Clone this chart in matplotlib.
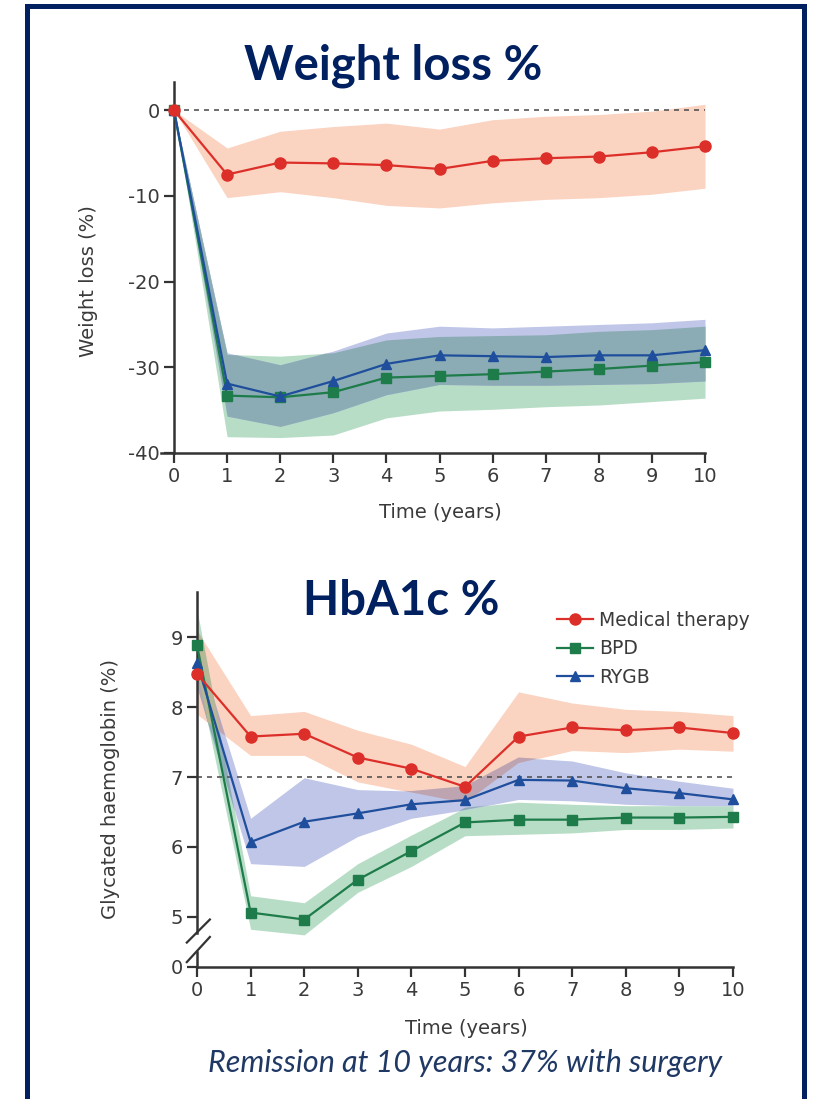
import numpy as np
import matplotlib
matplotlib.use("Agg")
from matplotlib import pyplot as plt
from matplotlib.colors import to_rgb
from matplotlib.patches import Rectangle
from matplotlib.lines import Line2D

plt.rcParams['font.family'] = ['Liberation Sans Narrow', 'DejaVu Sans']
plt.rcParams['axes.unicode_minus'] = False

years = [0, 1, 2, 3, 4, 5, 6, 7, 8, 9, 10]

# weight loss (%)
wl_med = [0, -7.5, -6.1, -6.2, -6.4, -6.85, -5.9, -5.6, -5.4, -4.9, -4.2]
wl_med_hi = [0, -4.4, -2.45, -1.9, -1.5, -2.2, -1.1, -0.7, -0.5, -0.1, 0.7]
wl_med_lo = [0, -10.2, -9.5, -10.2, -11.1, -11.4, -10.8, -10.4, -10.2, -9.8, -9.1]
wl_bpd = [0, -33.3, -33.5, -32.9, -31.2, -31.0, -30.8, -30.5, -30.2, -29.8, -29.4]
wl_bpd_hi = [0, -28.5, -28.7, -28.3, -26.8, -26.4, -26.3, -26.2, -25.8, -25.6, -25.2]
wl_bpd_lo = [0, -38.1, -38.2, -37.9, -35.9, -35.1, -34.9, -34.6, -34.4, -34.0, -33.6]
wl_rygb = [0, -31.9, -33.4, -31.6, -29.6, -28.6, -28.7, -28.8, -28.6, -28.6, -28.0]
wl_rygb_hi = [0, -28.3, -29.7, -28.1, -26.0, -25.2, -25.4, -25.2, -25.0, -24.8, -24.4]
wl_rygb_lo = [0, -35.7, -36.9, -35.3, -33.2, -32.0, -32.1, -32.1, -32.0, -31.9, -31.6]

# glycated haemoglobin (%)
hb_med = [8.48, 7.58, 7.62, 7.28, 7.12, 6.86, 7.58, 7.71, 7.67, 7.71, 7.63]
hb_med_hi = [9.1, 7.88, 7.94, 7.67, 7.47, 7.15, 8.22, 8.06, 7.97, 7.94, 7.88]
hb_med_lo = [7.9, 7.31, 7.31, 6.93, 6.78, 6.63, 7.2, 7.38, 7.35, 7.40, 7.37]
hb_bpd = [8.89, 5.06, 4.96, 5.53, 5.94, 6.35, 6.39, 6.39, 6.42, 6.42, 6.43]
hb_bpd_hi = [9.4, 5.30, 5.2, 5.76, 6.17, 6.56, 6.64, 6.61, 6.59, 6.59, 6.59]
hb_bpd_lo = [8.5, 4.82, 4.74, 5.35, 5.72, 6.16, 6.18, 6.2, 6.25, 6.25, 6.27]
hb_rygb = [8.64, 6.07, 6.36, 6.48, 6.61, 6.67, 6.96, 6.95, 6.84, 6.77, 6.68]
hb_rygb_hi = [8.9, 6.41, 6.99, 6.82, 6.8, 6.87, 7.28, 7.23, 7.06, 6.94, 6.84]
hb_rygb_lo = [8.3, 5.76, 5.72, 6.15, 6.41, 6.53, 6.68, 6.66, 6.61, 6.59, 6.59]

labels = ['Medical therapy', 'BPD', 'RYGB']

red, green, blue = '#dd2f29', '#1e7b4a', '#1f4f9c'
red_band, green_band, blue_band = '#fbd3c1', '#b8ddc6', '#c0c6e8'
navy = '#002060'
axis_col = '#333333'

fig = plt.figure(figsize=(8.16, 10.99), dpi=100)
W, H = 816, 1099


def px_axes(x0, x1, ytop, ybot):
    return fig.add_axes([x0 / W, 1 - ybot / H, (x1 - x0) / W, (ybot - ytop) / H])


def overlap(ax, lo1, hi1, c1, lo2, hi2, c2):
    # multiply-blend colour where two bands cover each other
    xf = np.linspace(0, 10, 1001)
    lo = np.maximum(np.interp(xf, years, lo1), np.interp(xf, years, lo2))
    hi = np.minimum(np.interp(xf, years, hi1), np.interp(xf, years, hi2))
    col = np.array(to_rgb(c1)) * np.array(to_rgb(c2))
    ax.fill_between(xf, lo, hi, where=hi > lo, color=col, lw=0, zorder=1.5)


def draw_panel(ax, med, mhi, mlo, bpd, bhi, blo, ryg, rhi, rlo):
    ax.fill_between(years, mlo, mhi, color=red_band, lw=0, zorder=1)
    ax.fill_between(years, blo, bhi, color=green_band, lw=0, zorder=1)
    ax.fill_between(years, rlo, rhi, color=blue_band, lw=0, zorder=1)
    overlap(ax, mlo, mhi, red_band, rlo, rhi, blue_band)
    overlap(ax, blo, bhi, green_band, rlo, rhi, blue_band)
    overlap(ax, mlo, mhi, red_band, blo, bhi, green_band)
    ax.plot(years, bpd, color=green, lw=1.6, marker='s', ms=6.5, clip_on=False, zorder=3)
    ax.plot(years, ryg, color=blue, lw=1.6, marker='^', ms=7.5, clip_on=False, zorder=3.1)
    ax.plot(years, med, color=red, lw=1.6, marker='o', ms=8, clip_on=False, zorder=3.2)


def style(ax):
    for s in ['top', 'right']:
        ax.spines[s].set_visible(False)
    for s in ['left', 'bottom']:
        ax.spines[s].set_color(axis_col)
        ax.spines[s].set_linewidth(1.8)
    ax.tick_params(direction='out', length=7, width=1.6, colors=axis_col,
                   labelsize=14, labelcolor='#3a3a3a', pad=3)
    ax.set_xlim(0, 10)
    ax.set_xticks(years)
    ax.set_facecolor('none')


# ---- top panel: weight loss
ax1 = px_axes(174, 705, 82, 453)
draw_panel(ax1, wl_med, wl_med_hi, wl_med_lo, wl_bpd, wl_bpd_hi, wl_bpd_lo,
           wl_rygb, wl_rygb_hi, wl_rygb_lo)
ax1.axhline(0, color='#555555', lw=1.2, ls=(0, (3, 3)), zorder=2)
style(ax1)
ax1.set_ylim(-40, 3.3)
ax1.set_yticks([0, -10, -20, -30, -40])
ax1.spines['bottom'].set_bounds(-0.25, 10)

# ---- bottom panel: HbA1c
ax2 = px_axes(197, 733, 592, 967)
draw_panel(ax2, hb_med, hb_med_hi, hb_med_lo, hb_bpd, hb_bpd_hi, hb_bpd_lo,
           hb_rygb, hb_rygb_hi, hb_rygb_lo)
ax2.axhline(7, color='#555555', lw=1.2, ls=(0, (3, 3)), zorder=2)
style(ax2)
ybase = 4.28
ax2.set_ylim(ybase, 9.65)
ax2.set_yticks([ybase, 5, 6, 7, 8, 9])
ax2.set_yticklabels(['0', '5', '6', '7', '8', '9'])
ax2.spines['left'].set_bounds(4.77, 9.65)
ax2.plot([0, 0], [ybase, 4.5], color=axis_col, lw=1.8, clip_on=False, zorder=4)
for y0, y1 in [(4.63, 4.96), (4.35, 4.71)]:
    ax2.plot([-0.19, 0.24], [y0, y1], color=axis_col, lw=1.6, clip_on=False, zorder=4)

handles = [Line2D([], [], color=red, lw=1.6, marker='o', ms=8),
           Line2D([], [], color=green, lw=1.6, marker='s', ms=6.5),
           Line2D([], [], color=blue, lw=1.6, marker='^', ms=7.5)]
fig.legend(handles, labels, loc='upper left', bbox_to_anchor=(540 / W, 1 - 594 / H),
           frameon=False, fontsize=13.5, handlelength=1.9, handletextpad=0.35,
           labelspacing=0.5, labelcolor='#3a3a3a')

# ---- texts
lab = dict(fontsize=14, color='#3a3a3a')
fig.text(88 / W, 1 - 281 / H, 'Weight loss (%)', rotation=90, ha='center', va='center', **lab)
fig.text(440 / W, 1 - 513 / H, 'Time (years)', ha='center', va='center', **lab)
fig.text(110 / W, 1 - 789 / H, 'Glycated haemoglobin (%)', rotation=90, ha='center', va='center', **lab)
fig.text(466 / W, 1 - 1028 / H, 'Time (years)', ha='center', va='center', **lab)

fig.text(393 / W, 1 - 79 / H, 'Weight loss %', ha='center', va='baseline',
         fontsize=34, fontweight='bold', color=navy, family=['Lato', 'DejaVu Sans'])
fig.text(401 / W, 1 - 615 / H, 'HbA1c %', ha='center', va='baseline',
         fontsize=34, fontweight='bold', color=navy, family=['Lato', 'DejaVu Sans'])
fig.text(465 / W, 1 - 1072 / H, 'Remission at 10 years: 37% with surgery', ha='center',
         va='baseline', fontsize=22, style='italic', color='#1f3864',
         family=['Lato', 'DejaVu Sans'])

fig.add_artist(Rectangle((26.5 / W, -0.05), (804 - 26.5) / W, 1.05 - 5.5 / H,
                         transform=fig.transFigure, fill=False, ec=navy, lw=3.6,
                         clip_on=False))

fig.savefig('out.png', dpi=100)
